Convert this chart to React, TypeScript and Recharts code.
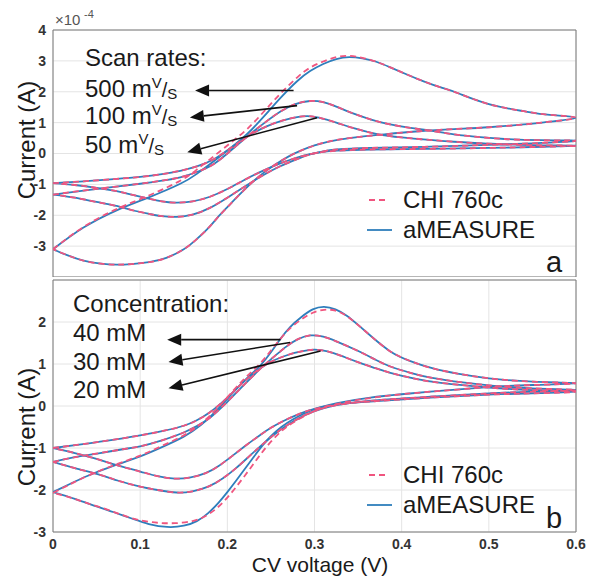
import { CartesianGrid, Line, LineChart, ReferenceArea, ReferenceLine, XAxis, YAxis } from "recharts";

// x: CV voltage (V), y: current in 1e-4 A
type Pt = [number, number];

const voltTicks = [0, 0.1, 0.2, 0.3, 0.4, 0.5, 0.6];
const scanTicks = [-3, -2, -1, 0, 1, 2, 3, 4];
const concTicks = [-3, -2, -1, 0, 1, 2];

// panel a: scan rates
const scanFwd500: Pt[] = [
  [0, -3.1], [0.035, -2.4], [0.073, -1.84], [0.11, -1.42], [0.146, -0.98], [0.165, -0.66], [0.184, -0.26],
  [0.203, 0.16], [0.223, 0.64], [0.242, 1.2], [0.261, 1.8], [0.28, 2.34], [0.295, 2.67], [0.31, 2.9],
  [0.325, 3.06], [0.34, 3.12], [0.355, 3.08], [0.37, 2.98], [0.387, 2.79], [0.406, 2.56], [0.426, 2.33],
  [0.445, 2.14], [0.464, 1.96], [0.5, 1.6], [0.54, 1.37], [0.57, 1.25], [0.6, 1.16],
];
const scanFwd500Chi: Pt[] = [
  [0, -3.1], [0.035, -2.38], [0.073, -1.8], [0.11, -1.36], [0.146, -0.88], [0.165, -0.52], [0.184, -0.1],
  [0.203, 0.33], [0.223, 0.8], [0.242, 1.36], [0.261, 1.94], [0.28, 2.46], [0.295, 2.78], [0.31, 2.98],
  [0.325, 3.12], [0.34, 3.16], [0.355, 3.1], [0.37, 2.98], [0.387, 2.79], [0.406, 2.56], [0.426, 2.33],
  [0.445, 2.14], [0.464, 1.96], [0.5, 1.6], [0.54, 1.37], [0.57, 1.25], [0.6, 1.16],
];
const scanRev500: Pt[] = [
  [0.57, 1.03], [0.54, 0.94], [0.5, 0.85], [0.46, 0.79], [0.42, 0.72], [0.38, 0.62], [0.34, 0.5],
  [0.315, 0.38], [0.3, 0.26], [0.285, 0.1], [0.27, -0.1], [0.255, -0.36], [0.24, -0.66], [0.226, -1.0],
  [0.213, -1.36], [0.2, -1.74], [0.188, -2.1], [0.177, -2.45], [0.163, -2.82], [0.15, -3.1], [0.13, -3.38],
  [0.11, -3.52], [0.09, -3.58], [0.073, -3.6], [0.055, -3.57], [0.035, -3.47], [0.017, -3.3], [0, -3.1],
];
const scanFwd100: Pt[] = [
  [0, -1.33], [0.035, -1.2], [0.07, -1.08], [0.1, -0.98], [0.125, -0.88], [0.146, -0.77], [0.165, -0.6],
  [0.185, -0.33], [0.205, 0.12], [0.225, 0.6], [0.243, 1.0], [0.261, 1.36], [0.278, 1.6], [0.295, 1.7],
  [0.31, 1.66], [0.325, 1.52], [0.345, 1.29], [0.365, 1.1], [0.384, 0.96], [0.41, 0.83], [0.433, 0.74],
  [0.46, 0.62], [0.49, 0.53], [0.518, 0.47], [0.56, 0.43], [0.6, 0.41],
];
const scanRev100: Pt[] = [
  [0.55, 0.33], [0.5, 0.28], [0.433, 0.22], [0.364, 0.18], [0.326, 0.13], [0.31, 0.07], [0.295, -0.03],
  [0.28, -0.18], [0.26, -0.42], [0.24, -0.72], [0.22, -1.07], [0.2, -1.43], [0.18, -1.76], [0.16, -1.98],
  [0.142, -2.05], [0.125, -2.03], [0.111, -1.96], [0.09, -1.83], [0.073, -1.7], [0.05, -1.57], [0.025, -1.43],
  [0, -1.33],
];
const scanFwd50: Pt[] = [
  [0, -0.96], [0.035, -0.9], [0.07, -0.83], [0.1, -0.76], [0.125, -0.67], [0.146, -0.56], [0.165, -0.42],
  [0.185, -0.18], [0.205, 0.2], [0.225, 0.58], [0.245, 0.88], [0.265, 1.08], [0.28, 1.18], [0.292, 1.21],
  [0.305, 1.16], [0.325, 1.0], [0.345, 0.82], [0.372, 0.63], [0.4, 0.52], [0.42, 0.47], [0.46, 0.38],
  [0.5, 0.32], [0.55, 0.27], [0.6, 0.25],
];
const scanRev50: Pt[] = [
  [0.55, 0.21], [0.5, 0.18], [0.433, 0.15], [0.364, 0.13], [0.326, 0.09], [0.31, 0.05], [0.295, -0.02],
  [0.28, -0.13], [0.26, -0.33], [0.24, -0.57], [0.22, -0.85], [0.2, -1.15], [0.18, -1.4], [0.16, -1.55],
  [0.14, -1.59], [0.125, -1.55], [0.111, -1.47], [0.09, -1.33], [0.073, -1.22], [0.05, -1.11], [0.025, -1.02],
  [0, -0.96],
];

// panel b: concentration
const concFwd40: Pt[] = [
  [0, -2.05], [0.02, -1.85], [0.04, -1.66], [0.07, -1.42], [0.1, -1.2], [0.125, -0.98], [0.15, -0.73],
  [0.17, -0.45], [0.188, -0.1], [0.207, 0.33], [0.222, 0.65], [0.238, 0.97], [0.25, 1.28], [0.261, 1.6],
  [0.272, 1.88], [0.285, 2.12], [0.298, 2.3], [0.311, 2.36], [0.324, 2.3], [0.337, 2.15], [0.35, 1.93],
  [0.365, 1.66], [0.387, 1.3], [0.41, 1.07], [0.435, 0.9], [0.464, 0.77], [0.5, 0.66], [0.55, 0.58], [0.6, 0.54],
];
const concFwd40Chi: Pt[] = [
  [0, -2.07], [0.02, -1.86], [0.04, -1.66], [0.07, -1.41], [0.1, -1.18], [0.125, -0.95], [0.15, -0.7],
  [0.17, -0.42], [0.188, -0.06], [0.207, 0.37], [0.222, 0.7], [0.238, 1.02], [0.25, 1.32], [0.261, 1.6],
  [0.272, 1.85], [0.285, 2.06], [0.298, 2.22], [0.311, 2.29], [0.324, 2.27], [0.337, 2.14], [0.35, 1.93],
  [0.365, 1.66], [0.387, 1.3], [0.41, 1.07], [0.435, 0.9], [0.464, 0.77], [0.5, 0.66], [0.55, 0.58], [0.6, 0.54],
];
const concRev40: Pt[] = [
  [0.55, 0.5], [0.5, 0.45], [0.433, 0.34], [0.4, 0.28], [0.364, 0.2], [0.326, 0.07], [0.305, -0.04],
  [0.29, -0.16], [0.275, -0.32], [0.262, -0.5], [0.25, -0.72], [0.24, -0.95], [0.23, -1.22], [0.22, -1.5],
  [0.21, -1.78], [0.2, -2.05], [0.19, -2.3], [0.178, -2.55], [0.165, -2.74], [0.15, -2.85], [0.131, -2.88],
  [0.11, -2.81], [0.092, -2.69], [0.07, -2.53], [0.05, -2.39], [0.025, -2.21], [0, -2.05],
];
const concRev40Chi: Pt[] = [
  [0.55, 0.5], [0.5, 0.45], [0.433, 0.34], [0.4, 0.28], [0.364, 0.19], [0.326, 0.05], [0.305, -0.08],
  [0.29, -0.22], [0.275, -0.4], [0.262, -0.6], [0.25, -0.85], [0.24, -1.1], [0.23, -1.38], [0.22, -1.66],
  [0.21, -1.93], [0.2, -2.18], [0.188, -2.43], [0.175, -2.62], [0.16, -2.74], [0.14, -2.79], [0.12, -2.78],
  [0.1, -2.72], [0.08, -2.6], [0.06, -2.45], [0.04, -2.32], [0.02, -2.18], [0, -2.07],
];
const concFwd30: Pt[] = [
  [0, -1.33], [0.03, -1.2], [0.054, -1.12], [0.08, -1.03], [0.1, -0.96], [0.125, -0.82], [0.15, -0.63],
  [0.165, -0.48], [0.18, -0.28], [0.2, 0.1], [0.22, 0.52], [0.24, 0.93], [0.255, 1.2], [0.268, 1.42],
  [0.28, 1.58], [0.295, 1.68], [0.31, 1.65], [0.325, 1.54], [0.349, 1.32], [0.37, 1.1], [0.387, 0.94],
  [0.41, 0.79], [0.435, 0.67], [0.47, 0.56], [0.5, 0.49], [0.55, 0.42], [0.6, 0.38],
];
const concRev30: Pt[] = [
  [0.55, 0.34], [0.5, 0.3], [0.433, 0.22], [0.38, 0.15], [0.345, 0.08], [0.32, 0.0], [0.3, -0.12],
  [0.285, -0.26], [0.27, -0.44], [0.255, -0.66], [0.24, -0.92], [0.225, -1.2], [0.21, -1.48], [0.195, -1.72],
  [0.178, -1.92], [0.16, -2.03], [0.142, -2.06], [0.12, -2.0], [0.1, -1.92], [0.075, -1.78], [0.054, -1.64],
  [0.025, -1.48], [0, -1.33],
];
const concFwd20: Pt[] = [
  [0, -1.0], [0.03, -0.92], [0.054, -0.85], [0.08, -0.77], [0.1, -0.7], [0.125, -0.6], [0.15, -0.47],
  [0.165, -0.34], [0.18, -0.15], [0.2, 0.2], [0.22, 0.6], [0.24, 0.93], [0.255, 1.1], [0.27, 1.22],
  [0.285, 1.3], [0.3, 1.34], [0.315, 1.3], [0.33, 1.2], [0.349, 1.05], [0.37, 0.9], [0.387, 0.79],
  [0.415, 0.65], [0.445, 0.55], [0.5, 0.44], [0.55, 0.38], [0.6, 0.34],
];
const concRev20: Pt[] = [
  [0.55, 0.3], [0.5, 0.27], [0.433, 0.2], [0.38, 0.13], [0.34, 0.07], [0.315, 0.0], [0.295, -0.1],
  [0.28, -0.21], [0.265, -0.35], [0.25, -0.52], [0.235, -0.73], [0.22, -0.96], [0.205, -1.2], [0.19, -1.43],
  [0.175, -1.6], [0.158, -1.7], [0.14, -1.73], [0.12, -1.67], [0.1, -1.56], [0.075, -1.42], [0.05, -1.26],
  [0.025, -1.12], [0, -1.0],
];

// annotation arrows: [tailV, tailI, tipV, tipI]
const scanArrows = [
  [0.276, 2.04, 0.163, 2.04],
  [0.28, 1.55, 0.157, 1.17],
  [0.303, 1.16, 0.154, 0.04],
];
const concArrows = [
  [0.261, 1.58, 0.131, 1.58],
  [0.272, 1.51, 0.1325, 1.05],
  [0.307, 1.31, 0.1325, 0.42],
];

const BLUE = "#2e7ebc";
const PINK = "#f0557f";
const FONT = "'Liberation Sans', Arial, sans-serif";

const rows = (...parts: Pt[][]) => parts.flat().map(([v, i]) => ({ v, i }));

const scanLoops = [
  { solid: rows(scanFwd500, scanRev500), dashed: rows(scanFwd500Chi, scanRev500) },
  { solid: rows(scanFwd100, scanRev100), dashed: rows(scanFwd100, scanRev100) },
  { solid: rows(scanFwd50, scanRev50), dashed: rows(scanFwd50, scanRev50) },
];
const concLoops = [
  { solid: rows(concFwd40, concRev40), dashed: rows(concFwd40Chi, concRev40Chi) },
  { solid: rows(concFwd30, concRev30), dashed: rows(concFwd30, concRev30) },
  { solid: rows(concFwd20, concRev20), dashed: rows(concFwd20, concRev20) },
];

function Arrow(props: any) {
  const { x1, y1, x2, y2 } = props;
  const ang = Math.atan2(y2 - y1, x2 - x1);
  const len = 14;
  const half = 6;
  const bx = x2 - len * Math.cos(ang);
  const by = y2 - len * Math.sin(ang);
  const px = -Math.sin(ang) * half;
  const py = Math.cos(ang) * half;
  return (
    <g>
      <line x1={x1} y1={y1} x2={bx} y2={by} stroke="#111" strokeWidth={1.6} />
      <polygon points={`${x2},${y2} ${bx + px},${by + py} ${bx - px},${by - py}`} fill="#111" />
    </g>
  );
}

const tickStyle = { fontSize: 14, fontWeight: 700, fill: "#333", fontFamily: FONT };

function Panel(props: {
  top: number;
  height: number;
  marginTop: number;
  xAxisHeight: number;
  yDomain: [number, number];
  yTicks: number[];
  showXLabels: boolean;
  loops: { solid: { v: number; i: number }[]; dashed: { v: number; i: number }[] }[];
  arrows: number[][];
}) {
  const { top, height, marginTop, xAxisHeight, yDomain, yTicks, showXLabels, loops, arrows } = props;
  return (
    <div style={{ position: "absolute", left: 0, top, width: 589, height }}>
      <LineChart width={589} height={height} margin={{ top: marginTop, right: 13, bottom: 0, left: 0 }}>
        <CartesianGrid stroke="#e4e4e4" strokeWidth={1} />
        <XAxis
          type="number"
          dataKey="v"
          domain={[0, 0.6]}
          ticks={voltTicks}
          height={xAxisHeight}
          axisLine={false}
          tickLine={false}
          tick={showXLabels ? tickStyle : false}
          tickSize={6}
          tickMargin={1}
          allowDataOverflow
        />
        <YAxis
          type="number"
          dataKey="i"
          domain={yDomain}
          ticks={yTicks}
          width={53}
          axisLine={false}
          tickLine={false}
          tick={tickStyle}
          tickSize={6}
          tickMargin={1}
          allowDataOverflow
        />
        <ReferenceArea x1={0} x2={0.6} y1={yDomain[0]} y2={yDomain[1]} fill="none" stroke="#7a7a7a" strokeWidth={1} fillOpacity={0} />
        {loops.map((loop, k) => (
          <Line
            key={`s${k}`}
            data={loop.solid}
            dataKey="i"
            type="natural"
            stroke={BLUE}
            strokeWidth={1.8}
            dot={false}
            activeDot={false}
            isAnimationActive={false}
          />
        ))}
        {loops.map((loop, k) => (
          <Line
            key={`d${k}`}
            data={loop.dashed}
            dataKey="i"
            type="natural"
            stroke={PINK}
            strokeWidth={1.8}
            strokeDasharray="6 4"
            dot={false}
            activeDot={false}
            isAnimationActive={false}
          />
        ))}
        {arrows.map((a, k) => (
          <ReferenceLine
            key={`a${k}`}
            segment={[{ x: a[0], y: a[1] }, { x: a[2], y: a[3] }]}
            shape={Arrow}
            ifOverflow="visible"
          />
        ))}
      </LineChart>
    </div>
  );
}

function Rate({ x, y, value }: { x: number; y: number; value: string }) {
  return (
    <text x={x} y={y} fontSize={24} fill="#1a1a1a">
      <tspan>{value} m</tspan>
      <tspan fontSize={15} dy={-9}>V</tspan>
      <tspan fontSize={20} dy={9}>/</tspan>
      <tspan fontSize={15} dy={2}>S</tspan>
    </text>
  );
}

function LegendBox({ y }: { y: number }) {
  return (
    <g>
      <line x1={369} x2={389} y1={y} y2={y} stroke={PINK} strokeWidth={1.8} strokeDasharray="6 4" />
      <text x={403} y={y + 8} fontSize={24} fill="#1a1a1a">CHI 760c</text>
      <line x1={367} x2={392} y1={y + 30} y2={y + 30} stroke={BLUE} strokeWidth={1.8} />
      <text x={403} y={y + 38} fontSize={24} fill="#1a1a1a">aMEASURE</text>
    </g>
  );
}

export default function App() {
  return (
    <div style={{ position: "absolute", left: 0, top: 0, width: 589, height: 576, overflow: "hidden", background: "#fff", fontFamily: FONT }}>
      <Panel
        top={0}
        height={277}
        marginTop={30}
        xAxisHeight={0}
        yDomain={[-4, 4]}
        yTicks={scanTicks}
        showXLabels={false}
        loops={scanLoops}
        arrows={scanArrows}
      />
      <Panel
        top={270}
        height={306}
        marginTop={10}
        xAxisHeight={44}
        yDomain={[-3, 3]}
        yTicks={concTicks}
        showXLabels={true}
        loops={concLoops}
        arrows={concArrows}
      />
      <svg width={589} height={576} style={{ position: "absolute", left: 0, top: 0, pointerEvents: "none", fontFamily: FONT }}>
        <text x={55} y={25} fontSize={15} fill="#555">×10</text>
        <text x={84} y={18} fontSize={11} fill="#555">-4</text>
        <text x={85} y={66} fontSize={24} fill="#1a1a1a">Scan rates:</text>
        <Rate x={85} y={97} value="500" />
        <Rate x={85} y={124} value="100" />
        <Rate x={85} y={153} value="50" />
        <LegendBox y={200} />
        <text x={546} y={272} fontSize={29} fill="#1a1a1a">a</text>
        <text transform="translate(35,140) rotate(-90)" textAnchor="middle" fontSize={24} fill="#1a1a1a">Current (A)</text>

        <text x={73} y={312} fontSize={24} fill="#1a1a1a">Concentration:</text>
        <text x={73} y={341} fontSize={24} fill="#1a1a1a">40 mM</text>
        <text x={73} y={370} fontSize={24} fill="#1a1a1a">30 mM</text>
        <text x={73} y={398} fontSize={24} fill="#1a1a1a">20 mM</text>
        <LegendBox y={475} />
        <text x={546} y={528} fontSize={29} fill="#1a1a1a">b</text>
        <text transform="translate(35,427) rotate(-90)" textAnchor="middle" fontSize={24} fill="#1a1a1a">Current (A)</text>
        <text x={320} y={571.5} textAnchor="middle" fontSize={21} fill="#1a1a1a">CV voltage (V)</text>
      </svg>
    </div>
  );
}
